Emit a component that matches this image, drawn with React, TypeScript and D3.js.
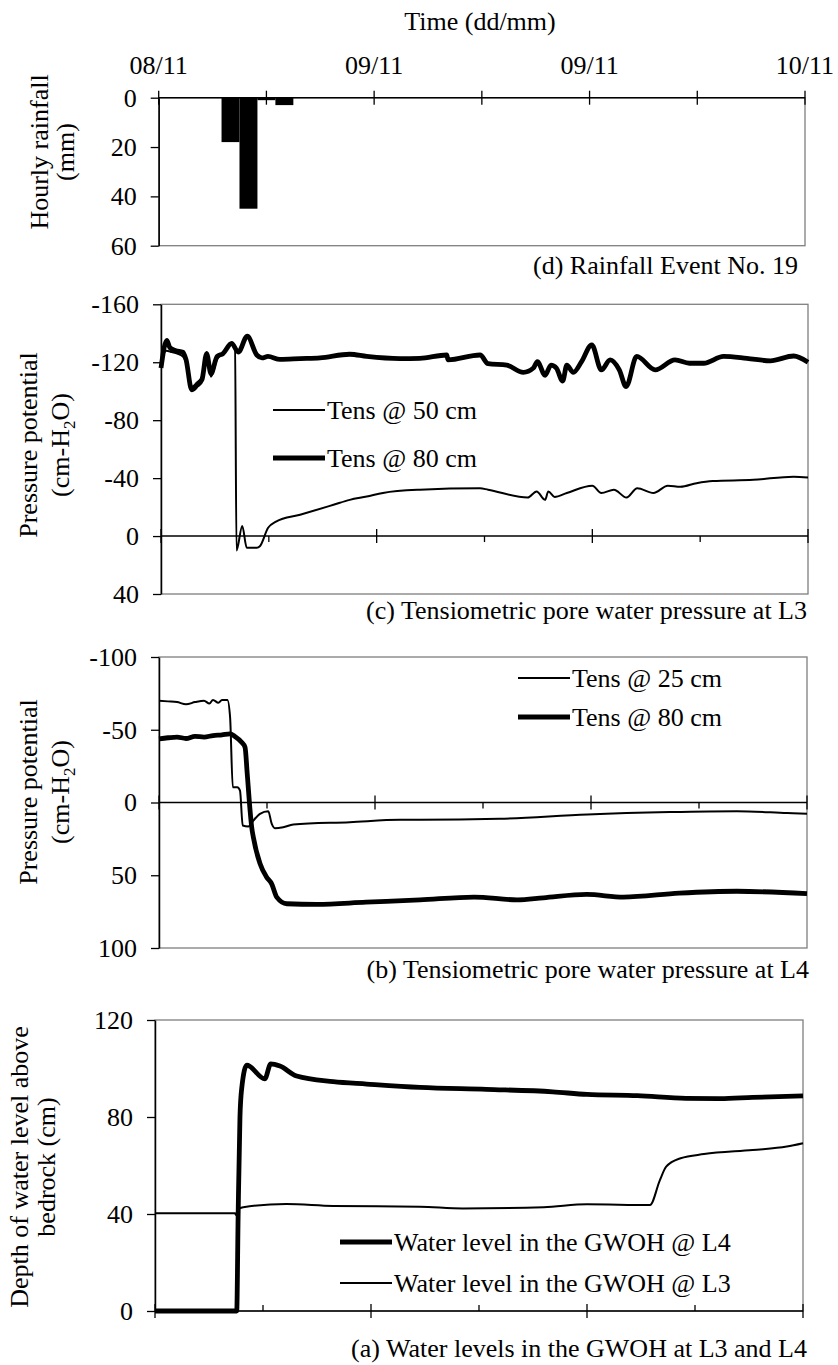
import React, { useRef, useEffect } from 'react';
import * as d3 from 'd3';

const W = 838;
const H = 1365;
const FONT = "'Liberation Serif', Tinos, 'Nimbus Roman', 'Times New Roman', Times, serif";

// time axis: hours after 08/11 12:00
const timeTicks = [0, 6, 12, 18, 24, 30, 36];
const timeLabels = ['08/11', '', '09/11', '', '09/11', '', '10/11'];

// (d) hourly rainfall
const rainHours = [4, 5, 6, 7];
const rainMm = [18, 45, 1, 3];

// (c) tensiometers at L3 [hour, cm-H2O]
const tens50L3: [number, number][] = [
  [0, -122], [0.3, -128], [0.6, -127], [0.9, -126], [1.22, -124], [1.4, -120], [1.71, -103],
  [2.0, -106], [2.28, -110], [2.54, -127], [2.78, -110], [3.12, -122], [3.45, -126], [3.93, -132],
  [4.12, -131], [4.2, 10], [4.52, -7], [4.77, 8], [5.33, 8], [5.5, 7], [5.96, -5.7], [6.4, -10],
  [7.74, -14.7], [9.6, -21.6], [10.5, -25], [11.45, -27.3], [12.35, -29.8], [14.4, -32], [17.75, -33],
  [18.2, -32], [20.4, -26.6], [20.9, -30.8], [21.37, -25], [21.55, -30.8], [21.9, -27], [22.58, -29.7],
  [24.0, -34.7], [24.5, -29.7], [25.2, -32], [25.9, -26.6], [26.5, -33], [27.4, -29.7], [28.2, -34.7],
  [28.9, -34], [29.8, -36.5], [30.7, -38], [32.96, -38.8], [35.2, -41], [36, -40.5],
];
const tens80L3: [number, number][] = [
  [0, -116], [0.32, -135], [0.5, -130], [0.83, -128], [1.22, -127], [1.39, -122], [1.71, -101],
  [2.0, -104], [2.28, -108], [2.54, -126], [2.78, -112], [3.12, -124], [3.45, -126], [3.93, -133],
  [4.3, -127], [4.8, -138], [5.33, -125], [5.62, -123], [5.95, -124], [6.62, -122], [7.74, -122.5],
  [8.85, -123], [10.5, -125.5], [11.45, -124], [13.3, -122.5], [14.4, -122.7], [15.9, -125],
  [15.97, -121.6], [17.75, -125], [18.2, -119], [19.24, -118], [20.16, -113], [20.72, -116],
  [20.94, -120.4], [21.37, -111], [21.7, -118], [22.0, -116], [22.35, -107], [22.58, -118],
  [22.94, -113], [23.4, -120.4], [23.97, -132], [24.5, -114.7], [24.99, -121.6], [25.5, -114.7],
  [25.88, -103.2], [26.47, -124], [27.5, -114.7], [28.6, -121.6], [29.4, -119.3], [30.2, -119.3],
  [31.3, -124], [32.6, -122.7], [33.9, -121], [35.2, -124.3], [36, -120],
];

// (b) tensiometers at L4 [hour, cm-H2O]
const tens25L4: [number, number][] = [
  [0, -70], [0.5, -69.5], [1.0, -69], [1.5, -67.5], [2.0, -69], [2.5, -70], [2.8, -68], [3.0, -70.5],
  [3.3, -68.5], [3.5, -70.5], [3.8, -70.5], [3.95, -58.6], [4.1, -10.5], [4.35, -10.5], [4.5, -8.2],
  [4.65, 15.8], [4.96, 16.5], [5.24, 12.4], [5.61, 7.8], [6.07, 6], [6.26, 14.6], [6.44, 17.7],
  [6.9, 17], [7.46, 15.1], [10.6, 13.5], [13.4, 11.9], [14.5, 11.9], [18.9, 11.2], [23.8, 8.2],
  [28.4, 6.6], [32.1, 6], [34.9, 7.3], [36, 7.8],
];
const tens80L4: [number, number][] = [
  [0, -43.8], [0.5, -44.5], [1.0, -45], [1.5, -44], [2.0, -45.5], [2.5, -45], [3.0, -46], [3.5, -46.5],
  [3.94, -47.2], [4.22, -45.4], [4.59, -41.4], [4.78, -38], [4.9, -20], [5.06, 5.5], [5.15, 17],
  [5.24, 23.8], [5.61, 42], [5.98, 51.3], [6.26, 55.9], [6.54, 65], [7.1, 69.6], [8.76, 70],
  [11.5, 68.5], [14.5, 66.9], [17.5, 65], [19.9, 66.9], [21.35, 65.5], [23.76, 63.2], [25.8, 65],
  [28.9, 62.3], [32.1, 61], [36, 62.7],
];

// (a) water level above bedrock [hour, cm]
const gwohL4: [number, number][] = [
  [0, 0], [4.54, 0], [4.62, 40], [4.72, 80], [4.82, 92], [5.1, 101.4], [6.1, 95.7], [6.43, 101.9],
  [6.94, 101], [7.87, 96.9], [9.9, 94.6], [11.76, 93.6], [14.72, 92.2], [18.4, 91.4], [22.1, 90.4],
  [24, 89.3], [26.8, 88.8], [29.5, 87.7], [31.4, 87.6], [33.2, 88.1], [36, 88.7],
];
const gwohL3: [number, number][] = [
  [0, 40.3], [4.44, 40.3], [4.5, 39.6], [4.6, 42], [4.9, 42.8], [7.3, 44.1], [9.9, 43.3], [14.72, 43],
  [17.1, 42.3], [21.6, 42.8], [24, 44], [27.5, 43.7], [28.05, 54], [28.4, 59.5], [29.2, 63],
  [30.5, 64.7], [33.2, 66.4], [35.1, 67.8], [36, 69.2],
];

const App = () => {
  const ref = useRef<SVGSVGElement>(null);

  useEffect(() => {
    const svg = d3.select(ref.current);
    svg.selectAll('*').remove();

    const txt = (x: number, y: number, s: string, anchor = 'start') =>
      svg.append('text').attr('x', x).attr('y', y).attr('text-anchor', anchor)
        .attr('font-family', FONT).attr('font-size', 26).attr('fill', '#000').text(s);

    // rotated y label, each line: [baseline x, content]
    const yLabel = (cy: number, lines: [number, string][], sub?: number) => {
      lines.forEach(([bx, s], i) => {
        const t = svg.append('text')
          .attr('transform', `translate(${bx},${cy}) rotate(-90)`)
          .attr('text-anchor', 'middle').attr('font-family', FONT).attr('font-size', 26);
        if (sub === i) {
          t.append('tspan').text('(cm-H');
          t.append('tspan').attr('font-size', 17).attr('dy', 6).text('2');
          t.append('tspan').attr('dy', -6).text('O)');
        } else {
          t.text(s);
        }
      });
    };

    const panel = (p: any) => {
      const x = d3.scaleLinear().domain([0, 36]).range([p.left, p.right]);
      const y = d3.scaleLinear().domain(p.yDomain).range([p.top, p.bottom]);
      const g = svg.append('g');

      g.append('rect').attr('x', p.left).attr('y', p.top)
        .attr('width', p.right - p.left).attr('height', p.bottom - p.top)
        .attr('fill', 'none').attr('stroke', '#7f7f7f').attr('stroke-width', 1.3);

      if (p.bars) {
        g.selectAll('.bar').data(p.bars.hours).enter().append('rect')
          .attr('x', (d: number) => x(d - 0.5))
          .attr('y', y(0))
          .attr('width', (d: number) => x(d + 0.5) - x(d - 0.5))
          .attr('height', (_: number, i: number) => y(p.bars.vals[i]) - y(0))
          .attr('fill', '#000');
      }

      const yAxis = g.append('g').attr('transform', `translate(${p.left},0)`)
        .call(d3.axisLeft(y).tickValues(p.yTicks).tickSize(8).tickSizeOuter(0).tickPadding(14)
          .tickFormat((d: any) => String(d)));
      yAxis.attr('font-family', FONT).attr('font-size', 26);
      yAxis.select('.domain').attr('stroke', '#000').attr('stroke-width', 1.5);
      yAxis.selectAll('.tick line').attr('stroke', '#000').attr('stroke-width', 1.3);
      yAxis.selectAll('.tick text').attr('fill', '#000');

      const y0 = y(0);
      g.append('line').attr('x1', p.left).attr('x2', p.right).attr('y1', y0).attr('y2', y0)
        .attr('stroke', '#000').attr('stroke-width', 1.5);
      timeTicks.forEach((t) => {
        const major = t % 12 === 0;
        let a = -7, b = 7;
        if (!major && p.minor === 'down') { a = 0; b = 6; }
        if (!major && p.minor === 'up') { a = -6; b = 0; }
        g.append('line').attr('x1', x(t)).attr('x2', x(t)).attr('y1', y0 + a).attr('y2', y0 + b)
          .attr('stroke', '#000').attr('stroke-width', 1.3);
      });

      if (p.topLabels) {
        timeTicks.forEach((t, i) => {
          if (timeLabels[i]) txt(x(t), 74, timeLabels[i], 'middle');
        });
      }

      const line = d3.line<[number, number]>().x((d) => x(d[0])).y((d) => y(d[1])).curve(d3.curveMonotoneX);
      (p.series || []).forEach((s: any) => {
        g.append('path').datum(s.data).attr('d', line).attr('fill', 'none')
          .attr('stroke', '#000').attr('stroke-width', s.w).attr('stroke-linejoin', 'round');
      });

      (p.legend || []).forEach((l: any) => {
        g.append('line').attr('x1', l.x).attr('x2', l.x + 52).attr('y1', l.y).attr('y2', l.y)
          .attr('stroke', '#000').attr('stroke-width', l.w);
        txt(l.x + 54, l.y + 9, l.label);
      });

      txt(p.capX, p.capY, p.caption, 'end');
    };

    txt(480, 30, 'Time (dd/mm)', 'middle');

    panel({
      left: 158.7, right: 805, top: 97.7, bottom: 245.7, yDomain: [0, 60], yTicks: [0, 20, 40, 60],
      minor: 'cross', topLabels: true, bars: { hours: rainHours, vals: rainMm },
      caption: '(d) Rainfall Event No. 19', capX: 798, capY: 274,
    });
    yLabel(152, [[48, 'Hourly rainfall'], [74, '(mm)']]);

    panel({
      left: 161, right: 808, top: 304.3, bottom: 594, yDomain: [-160, 40],
      yTicks: [-160, -120, -80, -40, 0, 40], minor: 'down',
      series: [{ data: tens50L3, w: 2 }, { data: tens80L3, w: 4.8 }],
      legend: [
        { x: 273, y: 410, w: 2, label: 'Tens @ 50 cm' },
        { x: 273, y: 458, w: 4.8, label: 'Tens @ 80 cm' },
      ],
      caption: '(c) Tensiometric pore water pressure at L3', capX: 807, capY: 619,
    });
    yLabel(445, [[37, 'Pressure potential'], [69, '']], 1);

    panel({
      left: 159, right: 807, top: 657, bottom: 948, yDomain: [-100, 100],
      yTicks: [-100, -50, 0, 50, 100], minor: 'down',
      series: [{ data: tens25L4, w: 2 }, { data: tens80L4, w: 4.8 }],
      legend: [
        { x: 518, y: 678, w: 2, label: 'Tens @ 25 cm' },
        { x: 518, y: 717, w: 4.8, label: 'Tens @ 80 cm' },
      ],
      caption: '(b) Tensiometric pore water pressure at L4', capX: 809, capY: 978,
    });
    yLabel(792, [[37, 'Pressure potential'], [69, '']], 1);

    panel({
      left: 155, right: 803, top: 1020, bottom: 1311, yDomain: [120, 0],
      yTicks: [0, 40, 80, 120], minor: 'up',
      series: [{ data: gwohL3, w: 2 }, { data: gwohL4, w: 4.8 }],
      legend: [
        { x: 340, y: 1242, w: 4.8, label: 'Water level in the GWOH @ L4' },
        { x: 340, y: 1283, w: 2, label: 'Water level in the GWOH @ L3' },
      ],
      caption: '(a) Water levels in the GWOH at L3 and L4', capX: 807, capY: 1357,
    });
    yLabel(1167, [[28, 'Depth of water level above'], [55, 'bedrock (cm)']]);
  }, []);

  return (
    <svg ref={ref} width={W} height={H}
      style={{ position: 'absolute', left: 0, top: 0, background: '#fff' }} />
  );
};

export default App;
